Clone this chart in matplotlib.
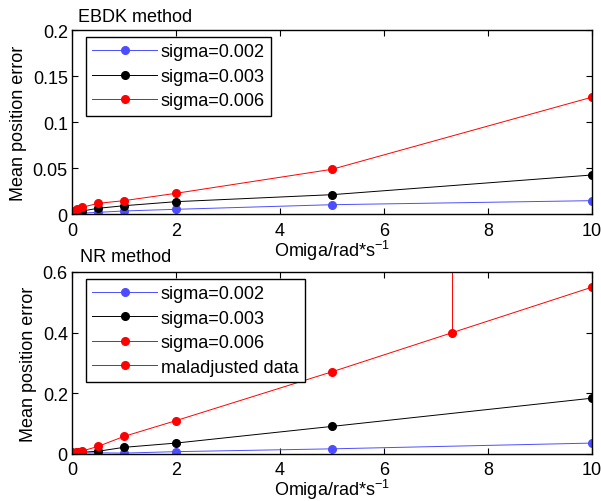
import numpy as np
import matplotlib
matplotlib.use('Agg')
import matplotlib.pyplot as plt

plt.rcParams['font.family'] = ['Liberation Sans', 'DejaVu Sans']
plt.rcParams['mathtext.fontset'] = 'custom'
plt.rcParams['mathtext.rm'] = 'Liberation Sans'

# omega values
omiga = [0, 0.1, 0.2, 0.5, 1, 2, 5, 10]

# EBDK method
ebdk_002 = [0.0005, 0.0008, 0.001, 0.0018, 0.0033, 0.0051, 0.0101, 0.0145]
ebdk_003 = [0.002, 0.0025, 0.0033, 0.0062, 0.009, 0.0134, 0.021, 0.0424]
ebdk_006 = [0.003, 0.0054, 0.0073, 0.0116, 0.0145, 0.0225, 0.0486, 0.127]

# NR method
nr_002 = [0.003, 0.003, 0.003, 0.004, 0.003, 0.0077, 0.017, 0.036]
nr_003 = [0.004, 0.005, 0.006, 0.009, 0.022, 0.036, 0.091, 0.184]
nr_006 = [0.006, 0.008, 0.01, 0.025, 0.058, 0.11, 0.271, 0.55]
mal_x = [7.3, 7.3]
mal_y = [0.4, 1.0]

labels = ['sigma=0.002', 'sigma=0.003', 'sigma=0.006']

fig = plt.figure(figsize=(6.01, 5.02), dpi=100)
ax1 = fig.add_axes([72/601, 1-215/502, 520/601, 184/502])
ax2 = fig.add_axes([72/601, 1-455/502, 520/601, 182/502])

fs = 13

def style(ax, yticks, ylabs, tpad, lpad):
    ax.set_xlim(0, 10)
    ax.set_xticks([0, 2, 4, 6, 8, 10])
    ax.set_yticks(yticks)
    ax.set_yticklabels(ylabs)
    ax.tick_params(direction='in', top=True, right=True, labelsize=fs, length=4, width=0.8)
    ax.tick_params(axis='x', pad=tpad)
    ax.tick_params(axis='y', pad=3)
    for s in ax.spines.values():
        s.set_linewidth(1.0)
    ax.set_xlabel('Omiga/rad*s$^{-1}$', fontsize=fs, labelpad=lpad)
    ax.set_ylabel('Mean position error', fontsize=fs, labelpad=4)

kw = dict(marker='o', markersize=5.5, linewidth=0.7)

ax1.plot(omiga, ebdk_002, color='#4d4dff', label=labels[0], **kw)
ax1.plot(omiga, ebdk_003, color='black', label=labels[1], **kw)
ax1.plot(omiga, ebdk_006, color='red', label=labels[2], **kw)
ax1.set_ylim(0, 0.2)
style(ax1, [0, 0.05, 0.1, 0.15, 0.2], ['0', '0.05', '0.1', '0.15', '0.2'], 6, -1)

ax2.plot(omiga, nr_002, color='#4d4dff', label=labels[0], **kw)
ax2.plot(omiga, nr_003, color='black', label=labels[1], **kw)
ax2.plot(omiga, nr_006, color='red', label=labels[2], **kw)
ax2.plot(mal_x, mal_y, color='red', markevery=[0], label='maladjusted data', **kw)
ax2.set_ylim(0, 0.6)
style(ax2, [0, 0.2, 0.4, 0.6], ['0', '0.2', '0.4', '0.6'], 5, -1)

for ax, y in [(ax1, 0.962), (ax2, 0.963)]:
    leg = ax.legend(loc='upper left', bbox_to_anchor=(0.027, y), borderaxespad=0,
                    fontsize=fs, fancybox=False, edgecolor='black', framealpha=1,
                    handlelength=3.6, handletextpad=0.2, labelspacing=0.42, borderpad=0.35)
    leg.get_frame().set_linewidth(1.0)

fig.text(78/601, 1-18/502, 'EBDK method', fontsize=fs, va='center', ha='left')
fig.text(80/601, 1-257/502, 'NR method', fontsize=fs, va='center', ha='left')

fig.savefig('out.png', dpi=100)
